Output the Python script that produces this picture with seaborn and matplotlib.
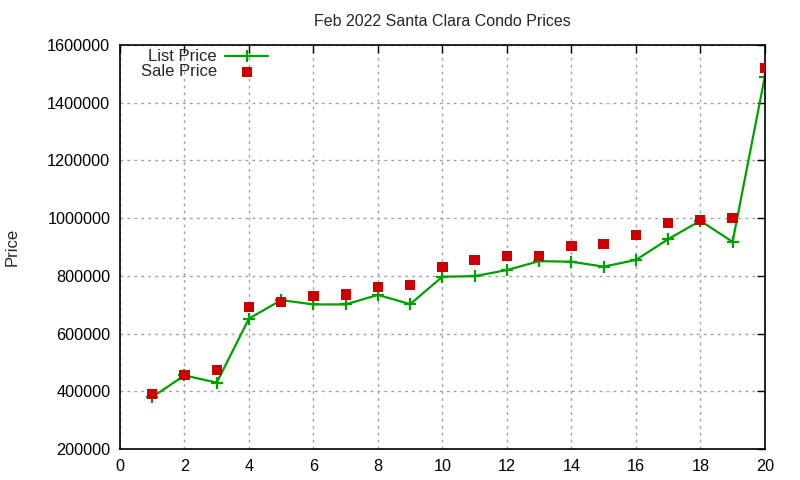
import numpy as np
import pandas as pd
import matplotlib
matplotlib.use("Agg")
import matplotlib.pyplot as plt
import seaborn as sns

# condo index, list price, sale price
idx = list(range(1, 21))
list_price = [380000, 455000, 430000, 652000, 716000, 701000, 701000, 734000, 702000, 797000,
              799000, 820000, 851000, 849000, 832000, 855000, 927000, 991000, 918000, 1490000]
sale_price = [390000, 457000, 474000, 693000, 710000, 730000, 735000, 762000, 769000, 831000,
              855000, 869000, 869000, 904000, 911000, 941000, 984000, 994000, 1001000, 1521000]

df = pd.DataFrame({"n": idx, "list": list_price, "sale": sale_price})

sns.set_style("white")
plt.rcParams['font.family'] = ['Liberation Sans', 'DejaVu Sans']

fig = plt.figure(figsize=(8, 4.8), dpi=100)
ax = fig.add_axes([0.15, 0.0646, 0.806, 0.8416])

green = "#00a000"
sns.lineplot(data=df, x="n", y="list", ax=ax, color=green, lw=1.6,
             marker="+", markersize=9, markeredgewidth=1.6,
             markeredgecolor=green, label="List Price")
sns.scatterplot(data=df, x="n", y="sale", ax=ax, color="#cc0000", marker="s",
                s=55, edgecolor="none", label="Sale Price", zorder=3)

ax.set_xlim(0, 20)
ax.set_ylim(200000, 1600000)
ax.set_xticks(range(0, 21, 2))
ax.set_yticks(range(200000, 1600001, 200000))
ax.ticklabel_format(axis="y", style="plain")
ax.grid(True, color="#a0a0a0", linestyle=(0, (2, 3)), lw=1)
for s in ax.spines.values():
    s.set_color("black")
    s.set_linewidth(1.2)
ax.tick_params(direction="in", length=6, width=1, top=True, right=True,
               labelsize=11.7, colors="black", pad=7)
ax.set_xlabel("")
ax.set_ylabel("Price", fontsize=12, labelpad=20)
ax.set_title("Feb 2022 Santa Clara Condo Prices", fontsize=11.5, pad=14)

ax.legend(loc="upper left", bbox_to_anchor=(0.014, 1.018), frameon=False,
          markerfirst=False, fontsize=12, handlelength=2.6,
          borderaxespad=0.3, labelspacing=0.0, handletextpad=0.5)

fig.savefig("out.png", dpi=100)
